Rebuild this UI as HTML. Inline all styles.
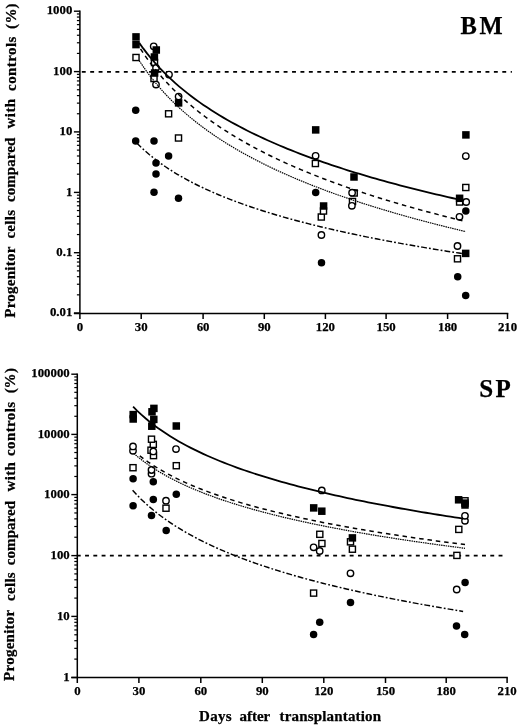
<!DOCTYPE html>
<html><head><meta charset="utf-8"><style>
html,body{margin:0;padding:0;background:#fff;overflow:hidden;width:520px;height:728px;}
svg{display:block;filter:grayscale(1);}
text{font-family:"Liberation Serif", serif;font-weight:bold;fill:#000;stroke:#000;stroke-width:0.25px;}
.tl{font-size:12.8px;}
.pl{font-size:24.5px;}
.yt{font-size:15px;}
.xt{font-size:15px;}
</style></head>
<body>
<svg width="520" height="728" viewBox="0 0 520 728">
<rect width="520" height="728" fill="#fff"/>
<line x1="79.9" y1="10.5" x2="79.9" y2="319" stroke="#000" stroke-width="1.5"/>
<line x1="73.9" y1="313.4" x2="508.3" y2="313.4" stroke="#000" stroke-width="1.5"/>
<line x1="73.9" y1="11.2" x2="79.9" y2="11.2" stroke="#000" stroke-width="1.4"/>
<text x="72.3" y="14.4" text-anchor="end" class="tl">1000</text>
<line x1="76.9" y1="53.42" x2="79.9" y2="53.42" stroke="#000" stroke-width="1.2"/>
<line x1="76.9" y1="42.78" x2="79.9" y2="42.78" stroke="#000" stroke-width="1.2"/>
<line x1="76.9" y1="35.24" x2="79.9" y2="35.24" stroke="#000" stroke-width="1.2"/>
<line x1="76.9" y1="29.38" x2="79.9" y2="29.38" stroke="#000" stroke-width="1.2"/>
<line x1="76.9" y1="24.6" x2="79.9" y2="24.6" stroke="#000" stroke-width="1.2"/>
<line x1="76.9" y1="20.56" x2="79.9" y2="20.56" stroke="#000" stroke-width="1.2"/>
<line x1="76.9" y1="17.05" x2="79.9" y2="17.05" stroke="#000" stroke-width="1.2"/>
<line x1="76.9" y1="13.96" x2="79.9" y2="13.96" stroke="#000" stroke-width="1.2"/>
<line x1="73.9" y1="71.6" x2="79.9" y2="71.6" stroke="#000" stroke-width="1.4"/>
<text x="72.3" y="74.8" text-anchor="end" class="tl">100</text>
<line x1="76.9" y1="113.75" x2="79.9" y2="113.75" stroke="#000" stroke-width="1.2"/>
<line x1="76.9" y1="103.13" x2="79.9" y2="103.13" stroke="#000" stroke-width="1.2"/>
<line x1="76.9" y1="95.6" x2="79.9" y2="95.6" stroke="#000" stroke-width="1.2"/>
<line x1="76.9" y1="89.75" x2="79.9" y2="89.75" stroke="#000" stroke-width="1.2"/>
<line x1="76.9" y1="84.98" x2="79.9" y2="84.98" stroke="#000" stroke-width="1.2"/>
<line x1="76.9" y1="80.94" x2="79.9" y2="80.94" stroke="#000" stroke-width="1.2"/>
<line x1="76.9" y1="77.44" x2="79.9" y2="77.44" stroke="#000" stroke-width="1.2"/>
<line x1="76.9" y1="74.36" x2="79.9" y2="74.36" stroke="#000" stroke-width="1.2"/>
<line x1="73.9" y1="131.9" x2="79.9" y2="131.9" stroke="#000" stroke-width="1.4"/>
<text x="72.3" y="135.1" text-anchor="end" class="tl">10</text>
<line x1="76.9" y1="174.19" x2="79.9" y2="174.19" stroke="#000" stroke-width="1.2"/>
<line x1="76.9" y1="163.53" x2="79.9" y2="163.53" stroke="#000" stroke-width="1.2"/>
<line x1="76.9" y1="155.98" x2="79.9" y2="155.98" stroke="#000" stroke-width="1.2"/>
<line x1="76.9" y1="150.11" x2="79.9" y2="150.11" stroke="#000" stroke-width="1.2"/>
<line x1="76.9" y1="145.32" x2="79.9" y2="145.32" stroke="#000" stroke-width="1.2"/>
<line x1="76.9" y1="141.27" x2="79.9" y2="141.27" stroke="#000" stroke-width="1.2"/>
<line x1="76.9" y1="137.76" x2="79.9" y2="137.76" stroke="#000" stroke-width="1.2"/>
<line x1="76.9" y1="134.67" x2="79.9" y2="134.67" stroke="#000" stroke-width="1.2"/>
<line x1="73.9" y1="192.4" x2="79.9" y2="192.4" stroke="#000" stroke-width="1.4"/>
<text x="72.3" y="195.6" text-anchor="end" class="tl">1</text>
<line x1="76.9" y1="234.55" x2="79.9" y2="234.55" stroke="#000" stroke-width="1.2"/>
<line x1="76.9" y1="223.93" x2="79.9" y2="223.93" stroke="#000" stroke-width="1.2"/>
<line x1="76.9" y1="216.4" x2="79.9" y2="216.4" stroke="#000" stroke-width="1.2"/>
<line x1="76.9" y1="210.55" x2="79.9" y2="210.55" stroke="#000" stroke-width="1.2"/>
<line x1="76.9" y1="205.78" x2="79.9" y2="205.78" stroke="#000" stroke-width="1.2"/>
<line x1="76.9" y1="201.74" x2="79.9" y2="201.74" stroke="#000" stroke-width="1.2"/>
<line x1="76.9" y1="198.24" x2="79.9" y2="198.24" stroke="#000" stroke-width="1.2"/>
<line x1="76.9" y1="195.16" x2="79.9" y2="195.16" stroke="#000" stroke-width="1.2"/>
<line x1="73.9" y1="252.7" x2="79.9" y2="252.7" stroke="#000" stroke-width="1.4"/>
<text x="72.3" y="255.9" text-anchor="end" class="tl">0.1</text>
<line x1="76.9" y1="294.85" x2="79.9" y2="294.85" stroke="#000" stroke-width="1.2"/>
<line x1="76.9" y1="284.23" x2="79.9" y2="284.23" stroke="#000" stroke-width="1.2"/>
<line x1="76.9" y1="276.7" x2="79.9" y2="276.7" stroke="#000" stroke-width="1.2"/>
<line x1="76.9" y1="270.85" x2="79.9" y2="270.85" stroke="#000" stroke-width="1.2"/>
<line x1="76.9" y1="266.08" x2="79.9" y2="266.08" stroke="#000" stroke-width="1.2"/>
<line x1="76.9" y1="262.04" x2="79.9" y2="262.04" stroke="#000" stroke-width="1.2"/>
<line x1="76.9" y1="258.54" x2="79.9" y2="258.54" stroke="#000" stroke-width="1.2"/>
<line x1="76.9" y1="255.46" x2="79.9" y2="255.46" stroke="#000" stroke-width="1.2"/>
<line x1="73.9" y1="313" x2="79.9" y2="313" stroke="#000" stroke-width="1.4"/>
<text x="72.3" y="316.2" text-anchor="end" class="tl">0.01</text>
<text x="80" y="331.2" text-anchor="middle" class="tl">0</text>
<line x1="141.2" y1="313.4" x2="141.2" y2="319" stroke="#000" stroke-width="1.5"/>
<text x="141.2" y="331.2" text-anchor="middle" class="tl">30</text>
<line x1="203.1" y1="313.4" x2="203.1" y2="319" stroke="#000" stroke-width="1.5"/>
<text x="203.1" y="331.2" text-anchor="middle" class="tl">60</text>
<line x1="264.3" y1="313.4" x2="264.3" y2="319" stroke="#000" stroke-width="1.5"/>
<text x="264.3" y="331.2" text-anchor="middle" class="tl">90</text>
<line x1="325.4" y1="313.4" x2="325.4" y2="319" stroke="#000" stroke-width="1.5"/>
<text x="325.4" y="331.2" text-anchor="middle" class="tl">120</text>
<line x1="386.1" y1="313.4" x2="386.1" y2="319" stroke="#000" stroke-width="1.5"/>
<text x="386.1" y="331.2" text-anchor="middle" class="tl">150</text>
<line x1="447.6" y1="313.4" x2="447.6" y2="319" stroke="#000" stroke-width="1.5"/>
<text x="447.6" y="331.2" text-anchor="middle" class="tl">180</text>
<line x1="507.5" y1="313.4" x2="507.5" y2="319" stroke="#000" stroke-width="1.5"/>
<text x="507.5" y="331.2" text-anchor="middle" class="tl">210</text>
<line x1="81.8" y1="71.8" x2="511.9" y2="71.8" stroke="#000" stroke-width="1.75" stroke-dasharray="3.9 4.51"/>
<line x1="77.3" y1="373.5" x2="77.3" y2="683" stroke="#000" stroke-width="1.5"/>
<line x1="71.3" y1="677.4" x2="507.8" y2="677.4" stroke="#000" stroke-width="1.5"/>
<line x1="71.3" y1="374.2" x2="77.3" y2="374.2" stroke="#000" stroke-width="1.4"/>
<text x="69.7" y="377.4" text-anchor="end" class="tl">100000</text>
<line x1="74.3" y1="416.28" x2="77.3" y2="416.28" stroke="#000" stroke-width="1.2"/>
<line x1="74.3" y1="405.68" x2="77.3" y2="405.68" stroke="#000" stroke-width="1.2"/>
<line x1="74.3" y1="398.16" x2="77.3" y2="398.16" stroke="#000" stroke-width="1.2"/>
<line x1="74.3" y1="392.32" x2="77.3" y2="392.32" stroke="#000" stroke-width="1.2"/>
<line x1="74.3" y1="387.56" x2="77.3" y2="387.56" stroke="#000" stroke-width="1.2"/>
<line x1="74.3" y1="383.53" x2="77.3" y2="383.53" stroke="#000" stroke-width="1.2"/>
<line x1="74.3" y1="380.03" x2="77.3" y2="380.03" stroke="#000" stroke-width="1.2"/>
<line x1="74.3" y1="376.95" x2="77.3" y2="376.95" stroke="#000" stroke-width="1.2"/>
<line x1="71.3" y1="434.4" x2="77.3" y2="434.4" stroke="#000" stroke-width="1.4"/>
<text x="69.7" y="437.6" text-anchor="end" class="tl">10000</text>
<line x1="74.3" y1="476.48" x2="77.3" y2="476.48" stroke="#000" stroke-width="1.2"/>
<line x1="74.3" y1="465.88" x2="77.3" y2="465.88" stroke="#000" stroke-width="1.2"/>
<line x1="74.3" y1="458.36" x2="77.3" y2="458.36" stroke="#000" stroke-width="1.2"/>
<line x1="74.3" y1="452.52" x2="77.3" y2="452.52" stroke="#000" stroke-width="1.2"/>
<line x1="74.3" y1="447.76" x2="77.3" y2="447.76" stroke="#000" stroke-width="1.2"/>
<line x1="74.3" y1="443.73" x2="77.3" y2="443.73" stroke="#000" stroke-width="1.2"/>
<line x1="74.3" y1="440.23" x2="77.3" y2="440.23" stroke="#000" stroke-width="1.2"/>
<line x1="74.3" y1="437.15" x2="77.3" y2="437.15" stroke="#000" stroke-width="1.2"/>
<line x1="71.3" y1="494.6" x2="77.3" y2="494.6" stroke="#000" stroke-width="1.4"/>
<text x="69.7" y="497.8" text-anchor="end" class="tl">1000</text>
<line x1="74.3" y1="537.24" x2="77.3" y2="537.24" stroke="#000" stroke-width="1.2"/>
<line x1="74.3" y1="526.5" x2="77.3" y2="526.5" stroke="#000" stroke-width="1.2"/>
<line x1="74.3" y1="518.87" x2="77.3" y2="518.87" stroke="#000" stroke-width="1.2"/>
<line x1="74.3" y1="512.96" x2="77.3" y2="512.96" stroke="#000" stroke-width="1.2"/>
<line x1="74.3" y1="508.13" x2="77.3" y2="508.13" stroke="#000" stroke-width="1.2"/>
<line x1="74.3" y1="504.05" x2="77.3" y2="504.05" stroke="#000" stroke-width="1.2"/>
<line x1="74.3" y1="500.51" x2="77.3" y2="500.51" stroke="#000" stroke-width="1.2"/>
<line x1="74.3" y1="497.39" x2="77.3" y2="497.39" stroke="#000" stroke-width="1.2"/>
<line x1="71.3" y1="555.6" x2="77.3" y2="555.6" stroke="#000" stroke-width="1.4"/>
<text x="69.7" y="558.8" text-anchor="end" class="tl">100</text>
<line x1="74.3" y1="598.1" x2="77.3" y2="598.1" stroke="#000" stroke-width="1.2"/>
<line x1="74.3" y1="587.39" x2="77.3" y2="587.39" stroke="#000" stroke-width="1.2"/>
<line x1="74.3" y1="579.79" x2="77.3" y2="579.79" stroke="#000" stroke-width="1.2"/>
<line x1="74.3" y1="573.9" x2="77.3" y2="573.9" stroke="#000" stroke-width="1.2"/>
<line x1="74.3" y1="569.09" x2="77.3" y2="569.09" stroke="#000" stroke-width="1.2"/>
<line x1="74.3" y1="565.02" x2="77.3" y2="565.02" stroke="#000" stroke-width="1.2"/>
<line x1="74.3" y1="561.49" x2="77.3" y2="561.49" stroke="#000" stroke-width="1.2"/>
<line x1="74.3" y1="558.38" x2="77.3" y2="558.38" stroke="#000" stroke-width="1.2"/>
<line x1="71.3" y1="616.4" x2="77.3" y2="616.4" stroke="#000" stroke-width="1.4"/>
<text x="69.7" y="619.6" text-anchor="end" class="tl">10</text>
<line x1="74.3" y1="659.11" x2="77.3" y2="659.11" stroke="#000" stroke-width="1.2"/>
<line x1="74.3" y1="648.35" x2="77.3" y2="648.35" stroke="#000" stroke-width="1.2"/>
<line x1="74.3" y1="640.71" x2="77.3" y2="640.71" stroke="#000" stroke-width="1.2"/>
<line x1="74.3" y1="634.79" x2="77.3" y2="634.79" stroke="#000" stroke-width="1.2"/>
<line x1="74.3" y1="629.95" x2="77.3" y2="629.95" stroke="#000" stroke-width="1.2"/>
<line x1="74.3" y1="625.86" x2="77.3" y2="625.86" stroke="#000" stroke-width="1.2"/>
<line x1="74.3" y1="622.32" x2="77.3" y2="622.32" stroke="#000" stroke-width="1.2"/>
<line x1="74.3" y1="619.2" x2="77.3" y2="619.2" stroke="#000" stroke-width="1.2"/>
<line x1="71.3" y1="677.5" x2="77.3" y2="677.5" stroke="#000" stroke-width="1.4"/>
<text x="69.7" y="680.7" text-anchor="end" class="tl">1</text>
<text x="77.4" y="695.2" text-anchor="middle" class="tl">0</text>
<line x1="138.9" y1="677.4" x2="138.9" y2="683" stroke="#000" stroke-width="1.5"/>
<text x="138.9" y="695.2" text-anchor="middle" class="tl">30</text>
<line x1="200.8" y1="677.4" x2="200.8" y2="683" stroke="#000" stroke-width="1.5"/>
<text x="200.8" y="695.2" text-anchor="middle" class="tl">60</text>
<line x1="262.3" y1="677.4" x2="262.3" y2="683" stroke="#000" stroke-width="1.5"/>
<text x="262.3" y="695.2" text-anchor="middle" class="tl">90</text>
<line x1="323.8" y1="677.4" x2="323.8" y2="683" stroke="#000" stroke-width="1.5"/>
<text x="323.8" y="695.2" text-anchor="middle" class="tl">120</text>
<line x1="385.5" y1="677.4" x2="385.5" y2="683" stroke="#000" stroke-width="1.5"/>
<text x="385.5" y="695.2" text-anchor="middle" class="tl">150</text>
<line x1="446.2" y1="677.4" x2="446.2" y2="683" stroke="#000" stroke-width="1.5"/>
<text x="446.2" y="695.2" text-anchor="middle" class="tl">180</text>
<line x1="507.1" y1="677.4" x2="507.1" y2="683" stroke="#000" stroke-width="1.5"/>
<text x="507.1" y="695.2" text-anchor="middle" class="tl">210</text>
<line x1="76.8" y1="555.7" x2="502.8" y2="555.7" stroke="#000" stroke-width="1.75" stroke-dasharray="3.9 4.37"/>
<rect x="454.45" y="255.75" width="6.1" height="6.1" fill="#fff" stroke="#000" stroke-width="1.4"/>
<rect x="318.25" y="213.95" width="6.1" height="6.1" fill="#fff" stroke="#000" stroke-width="1.4"/>
<rect x="320.45" y="207.95" width="6.1" height="6.1" fill="#fff" stroke="#000" stroke-width="1.4"/>
<rect x="456.55" y="198.95" width="6.1" height="6.1" fill="#fff" stroke="#000" stroke-width="1.4"/>
<rect x="349.45" y="198.45" width="6.1" height="6.1" fill="#fff" stroke="#000" stroke-width="1.4"/>
<rect x="351.15" y="189.95" width="6.1" height="6.1" fill="#fff" stroke="#000" stroke-width="1.4"/>
<rect x="462.75" y="184.45" width="6.1" height="6.1" fill="#fff" stroke="#000" stroke-width="1.4"/>
<rect x="312.35" y="160.45" width="6.1" height="6.1" fill="#fff" stroke="#000" stroke-width="1.4"/>
<rect x="175.45" y="134.95" width="6.1" height="6.1" fill="#fff" stroke="#000" stroke-width="1.4"/>
<rect x="165.55" y="110.75" width="6.1" height="6.1" fill="#fff" stroke="#000" stroke-width="1.4"/>
<rect x="150.95" y="75.45" width="6.1" height="6.1" fill="#fff" stroke="#000" stroke-width="1.4"/>
<rect x="151.45" y="59.45" width="6.1" height="6.1" fill="#fff" stroke="#000" stroke-width="1.4"/>
<rect x="132.95" y="54.45" width="6.1" height="6.1" fill="#fff" stroke="#000" stroke-width="1.4"/>
<circle cx="457.5" cy="246" r="3.2" fill="#fff" stroke="#000" stroke-width="1.4"/>
<circle cx="321.4" cy="235" r="3.2" fill="#fff" stroke="#000" stroke-width="1.4"/>
<circle cx="459.5" cy="216.8" r="3.2" fill="#fff" stroke="#000" stroke-width="1.4"/>
<circle cx="351.9" cy="205.8" r="3.2" fill="#fff" stroke="#000" stroke-width="1.4"/>
<circle cx="466.2" cy="202" r="3.2" fill="#fff" stroke="#000" stroke-width="1.4"/>
<circle cx="352.1" cy="192.7" r="3.2" fill="#fff" stroke="#000" stroke-width="1.4"/>
<circle cx="465.8" cy="156.1" r="3.2" fill="#fff" stroke="#000" stroke-width="1.4"/>
<circle cx="315.6" cy="155.8" r="3.2" fill="#fff" stroke="#000" stroke-width="1.4"/>
<circle cx="178.6" cy="96.6" r="3.2" fill="#fff" stroke="#000" stroke-width="1.4"/>
<circle cx="156" cy="84.6" r="3.2" fill="#fff" stroke="#000" stroke-width="1.4"/>
<circle cx="169" cy="74.6" r="3.2" fill="#fff" stroke="#000" stroke-width="1.4"/>
<circle cx="156" cy="68" r="3.2" fill="#fff" stroke="#000" stroke-width="1.4"/>
<circle cx="153.7" cy="46.3" r="3.2" fill="#fff" stroke="#000" stroke-width="1.4"/>
<rect x="132.25" y="33.15" width="7.5" height="7.5" fill="#000"/>
<rect x="132.25" y="40.85" width="7.5" height="7.5" fill="#000"/>
<rect x="152.55" y="46.25" width="7.5" height="7.5" fill="#000"/>
<rect x="150.65" y="53.25" width="7.5" height="7.5" fill="#000"/>
<rect x="150.85" y="69.25" width="7.5" height="7.5" fill="#000"/>
<rect x="174.85" y="99.15" width="7.5" height="7.5" fill="#000"/>
<rect x="311.95" y="126.15" width="7.5" height="7.5" fill="#000"/>
<rect x="319.85" y="202.25" width="7.5" height="7.5" fill="#000"/>
<rect x="350.25" y="173.25" width="7.5" height="7.5" fill="#000"/>
<rect x="462.15" y="131.15" width="7.5" height="7.5" fill="#000"/>
<rect x="455.85" y="194.55" width="7.5" height="7.5" fill="#000"/>
<rect x="461.95" y="249.65" width="7.5" height="7.5" fill="#000"/>
<circle cx="135.7" cy="110.3" r="3.75" fill="#000"/>
<circle cx="135.7" cy="141.1" r="3.75" fill="#000"/>
<circle cx="154" cy="141.1" r="3.75" fill="#000"/>
<circle cx="168.6" cy="155.9" r="3.75" fill="#000"/>
<circle cx="156" cy="163" r="3.75" fill="#000"/>
<circle cx="156" cy="174" r="3.75" fill="#000"/>
<circle cx="154" cy="192.2" r="3.75" fill="#000"/>
<circle cx="178.5" cy="198.3" r="3.75" fill="#000"/>
<circle cx="315.7" cy="192.5" r="3.75" fill="#000"/>
<circle cx="321.5" cy="262.7" r="3.75" fill="#000"/>
<circle cx="465.8" cy="210.9" r="3.75" fill="#000"/>
<circle cx="457.7" cy="276.8" r="3.75" fill="#000"/>
<circle cx="465.7" cy="295.4" r="3.75" fill="#000"/>
<rect x="310.55" y="590.05" width="6.1" height="6.1" fill="#fff" stroke="#000" stroke-width="1.4"/>
<rect x="453.85" y="552.35" width="6.1" height="6.1" fill="#fff" stroke="#000" stroke-width="1.4"/>
<rect x="349.35" y="546.15" width="6.1" height="6.1" fill="#fff" stroke="#000" stroke-width="1.4"/>
<rect x="318.85" y="540.45" width="6.1" height="6.1" fill="#fff" stroke="#000" stroke-width="1.4"/>
<rect x="347.45" y="538.75" width="6.1" height="6.1" fill="#fff" stroke="#000" stroke-width="1.4"/>
<rect x="316.75" y="531.25" width="6.1" height="6.1" fill="#fff" stroke="#000" stroke-width="1.4"/>
<rect x="455.75" y="526.35" width="6.1" height="6.1" fill="#fff" stroke="#000" stroke-width="1.4"/>
<rect x="162.95" y="505.15" width="6.1" height="6.1" fill="#fff" stroke="#000" stroke-width="1.4"/>
<rect x="461.95" y="497.75" width="6.1" height="6.1" fill="#fff" stroke="#000" stroke-width="1.4"/>
<rect x="129.95" y="464.65" width="6.1" height="6.1" fill="#fff" stroke="#000" stroke-width="1.4"/>
<rect x="173.25" y="462.65" width="6.1" height="6.1" fill="#fff" stroke="#000" stroke-width="1.4"/>
<rect x="150.45" y="452.55" width="6.1" height="6.1" fill="#fff" stroke="#000" stroke-width="1.4"/>
<rect x="147.95" y="447.15" width="6.1" height="6.1" fill="#fff" stroke="#000" stroke-width="1.4"/>
<rect x="150.25" y="441.35" width="6.1" height="6.1" fill="#fff" stroke="#000" stroke-width="1.4"/>
<rect x="148.45" y="436.15" width="6.1" height="6.1" fill="#fff" stroke="#000" stroke-width="1.4"/>
<circle cx="456.7" cy="589.5" r="3.2" fill="#fff" stroke="#000" stroke-width="1.4"/>
<circle cx="350.5" cy="573.3" r="3.2" fill="#fff" stroke="#000" stroke-width="1.4"/>
<circle cx="319.7" cy="551" r="3.2" fill="#fff" stroke="#000" stroke-width="1.4"/>
<circle cx="313.6" cy="547.3" r="3.2" fill="#fff" stroke="#000" stroke-width="1.4"/>
<circle cx="465" cy="520.8" r="3.2" fill="#fff" stroke="#000" stroke-width="1.4"/>
<circle cx="465" cy="515.8" r="3.2" fill="#fff" stroke="#000" stroke-width="1.4"/>
<circle cx="166" cy="500.7" r="3.2" fill="#fff" stroke="#000" stroke-width="1.4"/>
<circle cx="321.8" cy="490.4" r="3.2" fill="#fff" stroke="#000" stroke-width="1.4"/>
<circle cx="151.5" cy="473.7" r="3.2" fill="#fff" stroke="#000" stroke-width="1.4"/>
<circle cx="151.5" cy="470" r="3.2" fill="#fff" stroke="#000" stroke-width="1.4"/>
<circle cx="153.3" cy="451.4" r="3.2" fill="#fff" stroke="#000" stroke-width="1.4"/>
<circle cx="133" cy="450.8" r="3.2" fill="#fff" stroke="#000" stroke-width="1.4"/>
<circle cx="176" cy="449.1" r="3.2" fill="#fff" stroke="#000" stroke-width="1.4"/>
<circle cx="133" cy="446.4" r="3.2" fill="#fff" stroke="#000" stroke-width="1.4"/>
<rect x="129.45" y="410.85" width="7.5" height="7.5" fill="#000"/>
<rect x="129.45" y="415.25" width="7.5" height="7.5" fill="#000"/>
<rect x="150.15" y="404.65" width="7.5" height="7.5" fill="#000"/>
<rect x="148.25" y="408.05" width="7.5" height="7.5" fill="#000"/>
<rect x="150.05" y="415.65" width="7.5" height="7.5" fill="#000"/>
<rect x="148.05" y="422.45" width="7.5" height="7.5" fill="#000"/>
<rect x="172.55" y="422.25" width="7.5" height="7.5" fill="#000"/>
<rect x="309.95" y="504.15" width="7.5" height="7.5" fill="#000"/>
<rect x="318.05" y="507.45" width="7.5" height="7.5" fill="#000"/>
<rect x="348.65" y="534.15" width="7.5" height="7.5" fill="#000"/>
<rect x="454.85" y="496.05" width="7.5" height="7.5" fill="#000"/>
<rect x="461.25" y="499.35" width="7.5" height="7.5" fill="#000"/>
<rect x="461.25" y="501.25" width="7.5" height="7.5" fill="#000"/>
<circle cx="133.1" cy="478.7" r="3.75" fill="#000"/>
<circle cx="133.1" cy="505.8" r="3.75" fill="#000"/>
<circle cx="153.3" cy="481.8" r="3.75" fill="#000"/>
<circle cx="153.3" cy="499.4" r="3.75" fill="#000"/>
<circle cx="151.5" cy="515.5" r="3.75" fill="#000"/>
<circle cx="166.2" cy="530.5" r="3.75" fill="#000"/>
<circle cx="176.3" cy="494.2" r="3.75" fill="#000"/>
<circle cx="319.7" cy="622.2" r="3.75" fill="#000"/>
<circle cx="313.6" cy="634.6" r="3.75" fill="#000"/>
<circle cx="350.5" cy="602.5" r="3.75" fill="#000"/>
<circle cx="465.1" cy="582.6" r="3.75" fill="#000"/>
<circle cx="456.5" cy="626" r="3.75" fill="#000"/>
<circle cx="464.7" cy="634.6" r="3.75" fill="#000"/>
<path d="M139.2,42.88 L143.21,48.42 L147.22,53.62 L151.23,58.52 L155.24,63.15 L159.25,67.53 L163.26,71.7 L167.27,75.68 L171.28,79.47 L175.29,83.1 L179.3,86.58 L183.31,89.93 L187.32,93.14 L191.33,96.24 L195.34,99.23 L199.35,102.11 L203.36,104.9 L207.37,107.6 L211.38,110.22 L215.39,112.75 L219.4,115.22 L223.41,117.61 L227.42,119.94 L231.43,122.2 L235.44,124.41 L239.45,126.56 L243.46,128.65 L247.47,130.7 L251.48,132.69 L255.49,134.64 L259.5,136.55 L263.51,138.41 L267.52,140.24 L271.53,142.02 L275.54,143.77 L279.55,145.48 L283.56,147.16 L287.57,148.81 L291.58,150.42 L295.59,152 L299.6,153.56 L303.61,155.09 L307.62,156.58 L311.63,158.06 L315.64,159.51 L319.65,160.93 L323.66,162.33 L327.67,163.7 L331.68,165.06 L335.69,166.39 L339.7,167.71 L343.71,169 L347.72,170.27 L351.73,171.52 L355.74,172.76 L359.75,173.98 L363.76,175.18 L367.77,176.36 L371.78,177.53 L375.79,178.68 L379.8,179.81 L383.81,180.93 L387.82,182.04 L391.83,183.13 L395.84,184.21 L399.85,185.27 L403.86,186.32 L407.87,187.36 L411.88,188.39 L415.89,189.4 L419.9,190.4 L423.91,191.39 L427.92,192.37 L431.93,193.33 L435.94,194.29 L439.95,195.23 L443.96,196.17 L447.97,197.09 L451.98,198 L455.99,198.91 L460,199.8" fill="none" stroke="#000" stroke-width="1.8"/>
<path d="M140.5,48.95 L144.52,54.96 L148.55,60.6 L152.57,65.92 L156.59,70.95 L160.62,75.73 L164.64,80.27 L168.67,84.6 L172.69,88.73 L176.71,92.69 L180.74,96.49 L184.76,100.14 L188.78,103.65 L192.81,107.04 L196.83,110.3 L200.86,113.46 L204.88,116.51 L208.9,119.46 L212.93,122.33 L216.95,125.1 L220.97,127.8 L225,130.42 L229.02,132.97 L233.05,135.45 L237.07,137.87 L241.09,140.22 L245.12,142.52 L249.14,144.76 L253.16,146.95 L257.19,149.09 L261.21,151.18 L265.24,153.23 L269.26,155.23 L273.28,157.19 L277.31,159.1 L281.33,160.98 L285.36,162.83 L289.38,164.63 L293.4,166.4 L297.43,168.14 L301.45,169.85 L305.47,171.53 L309.5,173.17 L313.52,174.79 L317.54,176.38 L321.57,177.95 L325.59,179.48 L329.62,181 L333.64,182.48 L337.66,183.95 L341.69,185.39 L345.71,186.81 L349.74,188.21 L353.76,189.59 L357.78,190.95 L361.81,192.28 L365.83,193.6 L369.85,194.91 L373.88,196.19 L377.9,197.45 L381.93,198.7 L385.95,199.93 L389.97,201.15 L394,202.35 L398.02,203.54 L402.04,204.71 L406.07,205.86 L410.09,207 L414.11,208.13 L418.14,209.24 L422.16,210.35 L426.19,211.43 L430.21,212.51 L434.23,213.57 L438.26,214.62 L442.28,215.66 L446.3,216.69 L450.33,217.71 L454.35,218.71 L458.38,219.71 L462.4,220.69" fill="none" stroke="#000" stroke-width="1.5" stroke-dasharray="4.5 3.9"/>
<path d="M139.2,60.59 L143.28,66.68 L147.36,72.39 L151.44,77.77 L155.52,82.84 L159.61,87.65 L163.69,92.22 L167.77,96.57 L171.85,100.72 L175.93,104.69 L180.01,108.49 L184.09,112.14 L188.17,115.65 L192.26,119.03 L196.34,122.29 L200.42,125.44 L204.5,128.48 L208.58,131.42 L212.66,134.27 L216.74,137.04 L220.82,139.72 L224.91,142.33 L228.99,144.86 L233.07,147.33 L237.15,149.73 L241.23,152.07 L245.31,154.35 L249.39,156.57 L253.47,158.74 L257.56,160.86 L261.64,162.94 L265.72,164.96 L269.8,166.94 L273.88,168.89 L277.96,170.79 L282.04,172.65 L286.12,174.47 L290.21,176.26 L294.29,178.01 L298.37,179.73 L302.45,181.42 L306.53,183.08 L310.61,184.71 L314.69,186.31 L318.77,187.88 L322.86,189.42 L326.94,190.94 L331.02,192.44 L335.1,193.91 L339.18,195.36 L343.26,196.78 L347.34,198.18 L351.42,199.56 L355.51,200.92 L359.59,202.27 L363.67,203.59 L367.75,204.89 L371.83,206.17 L375.91,207.44 L379.99,208.69 L384.07,209.92 L388.16,211.14 L392.24,212.33 L396.32,213.52 L400.4,214.69 L404.48,215.84 L408.56,216.98 L412.64,218.11 L416.72,219.22 L420.81,220.32 L424.89,221.4 L428.97,222.47 L433.05,223.53 L437.13,224.58 L441.21,225.62 L445.29,226.64 L449.38,227.65 L453.46,228.66 L457.54,229.65 L461.62,230.63 L465.7,231.6" fill="none" stroke="#000" stroke-width="1.2" stroke-dasharray="1.5 0.8"/>
<path d="M137,143.19 L141.07,147.21 L145.15,150.96 L149.22,154.48 L153.3,157.8 L157.38,160.94 L161.45,163.92 L165.53,166.76 L169.6,169.46 L173.68,172.04 L177.75,174.51 L181.82,176.88 L185.9,179.16 L189.97,181.35 L194.05,183.46 L198.12,185.5 L202.2,187.46 L206.28,189.37 L210.35,191.21 L214.43,192.99 L218.5,194.72 L222.57,196.41 L226.65,198.04 L230.72,199.63 L234.8,201.18 L238.88,202.68 L242.95,204.15 L247.03,205.58 L251.1,206.98 L255.18,208.34 L259.25,209.68 L263.32,210.98 L267.4,212.26 L271.48,213.5 L275.55,214.72 L279.62,215.92 L283.7,217.09 L287.77,218.24 L291.85,219.36 L295.93,220.47 L300,221.55 L304.07,222.62 L308.15,223.66 L312.23,224.69 L316.3,225.69 L320.38,226.68 L324.45,227.66 L328.52,228.62 L332.6,229.56 L336.68,230.49 L340.75,231.4 L344.82,232.3 L348.9,233.18 L352.98,234.06 L357.05,234.91 L361.12,235.76 L365.2,236.59 L369.27,237.42 L373.35,238.23 L377.43,239.03 L381.5,239.81 L385.57,240.59 L389.65,241.36 L393.73,242.12 L397.8,242.87 L401.88,243.6 L405.95,244.33 L410.02,245.05 L414.1,245.76 L418.18,246.47 L422.25,247.16 L426.32,247.85 L430.4,248.52 L434.48,249.19 L438.55,249.86 L442.62,250.51 L446.7,251.16 L450.77,251.8 L454.85,252.43 L458.93,253.06 L463,253.68" fill="none" stroke="#000" stroke-width="1.45" stroke-dasharray="5.8 2.1 1.8 2.1"/>
<path d="M133.1,406.69 L137.22,410.83 L141.35,414.69 L145.47,418.3 L149.59,421.71 L153.72,424.92 L157.84,427.97 L161.97,430.86 L166.09,433.61 L170.21,436.24 L174.34,438.76 L178.46,441.17 L182.58,443.48 L186.71,445.71 L190.83,447.85 L194.96,449.91 L199.08,451.91 L203.2,453.84 L207.33,455.7 L211.45,457.51 L215.57,459.26 L219.7,460.96 L223.82,462.61 L227.95,464.22 L232.07,465.78 L236.19,467.3 L240.32,468.79 L244.44,470.23 L248.56,471.64 L252.69,473.02 L256.81,474.36 L260.94,475.68 L265.06,476.96 L269.18,478.22 L273.31,479.45 L277.43,480.65 L281.55,481.83 L285.68,482.99 L289.8,484.12 L293.93,485.24 L298.05,486.33 L302.17,487.4 L306.3,488.45 L310.42,489.48 L314.54,490.49 L318.67,491.49 L322.79,492.47 L326.92,493.43 L331.04,494.38 L335.16,495.31 L339.29,496.23 L343.41,497.14 L347.53,498.02 L351.66,498.9 L355.78,499.76 L359.91,500.61 L364.03,501.45 L368.15,502.28 L372.28,503.09 L376.4,503.89 L380.52,504.69 L384.65,505.47 L388.77,506.24 L392.9,507 L397.02,507.75 L401.14,508.49 L405.27,509.22 L409.39,509.94 L413.51,510.66 L417.64,511.36 L421.76,512.06 L425.89,512.75 L430.01,513.43 L434.13,514.1 L438.26,514.76 L442.38,515.42 L446.5,516.07 L450.63,516.71 L454.75,517.35 L458.88,517.98 L463,518.6" fill="none" stroke="#000" stroke-width="1.8"/>
<path d="M139.8,455.91 L143.87,458.98 L147.93,461.86 L152,464.58 L156.06,467.16 L160.12,469.61 L164.19,471.94 L168.26,474.16 L172.32,476.29 L176.38,478.33 L180.45,480.28 L184.52,482.16 L188.58,483.97 L192.65,485.71 L196.71,487.4 L200.78,489.02 L204.84,490.6 L208.91,492.12 L212.97,493.6 L217.04,495.04 L221.1,496.43 L225.17,497.78 L229.23,499.1 L233.3,500.38 L237.36,501.63 L241.43,502.85 L245.49,504.04 L249.56,505.2 L253.62,506.33 L257.69,507.44 L261.75,508.52 L265.81,509.58 L269.88,510.62 L273.95,511.63 L278.01,512.63 L282.08,513.6 L286.14,514.56 L290.21,515.49 L294.27,516.41 L298.34,517.31 L302.4,518.2 L306.47,519.07 L310.53,519.92 L314.6,520.76 L318.66,521.58 L322.73,522.4 L326.79,523.19 L330.86,523.98 L334.92,524.75 L338.99,525.51 L343.05,526.26 L347.12,527 L351.18,527.72 L355.25,528.44 L359.31,529.14 L363.38,529.84 L367.44,530.52 L371.5,531.2 L375.57,531.87 L379.63,532.52 L383.7,533.17 L387.76,533.81 L391.83,534.44 L395.89,535.07 L399.96,535.68 L404.03,536.29 L408.09,536.89 L412.15,537.48 L416.22,538.07 L420.29,538.65 L424.35,539.22 L428.42,539.79 L432.48,540.34 L436.55,540.9 L440.61,541.44 L444.68,541.98 L448.74,542.52 L452.81,543.05 L456.87,543.57 L460.94,544.09 L465,544.6" fill="none" stroke="#000" stroke-width="1.5" stroke-dasharray="4.5 3.9"/>
<path d="M133.8,453.44 L137.94,456.93 L142.08,460.19 L146.22,463.24 L150.36,466.12 L154.5,468.84 L158.64,471.41 L162.78,473.86 L166.92,476.19 L171.06,478.42 L175.2,480.55 L179.34,482.59 L183.48,484.55 L187.62,486.43 L191.76,488.24 L195.9,489.99 L200.04,491.68 L204.18,493.32 L208.32,494.9 L212.46,496.43 L216.6,497.92 L220.74,499.36 L224.88,500.76 L229.02,502.12 L233.16,503.45 L237.3,504.74 L241.44,506 L245.58,507.22 L249.72,508.42 L253.86,509.59 L258,510.73 L262.14,511.84 L266.28,512.93 L270.42,514 L274.56,515.04 L278.7,516.07 L282.84,517.07 L286.98,518.05 L291.12,519.01 L295.26,519.96 L299.4,520.88 L303.54,521.79 L307.68,522.68 L311.82,523.56 L315.96,524.42 L320.1,525.27 L324.24,526.1 L328.38,526.92 L332.52,527.72 L336.66,528.51 L340.8,529.29 L344.94,530.06 L349.08,530.82 L353.22,531.56 L357.36,532.29 L361.5,533.01 L365.64,533.73 L369.78,534.43 L373.92,535.12 L378.06,535.8 L382.2,536.47 L386.34,537.14 L390.48,537.79 L394.62,538.44 L398.76,539.08 L402.9,539.71 L407.04,540.33 L411.18,540.94 L415.32,541.55 L419.46,542.15 L423.6,542.74 L427.74,543.32 L431.88,543.9 L436.02,544.47 L440.16,545.04 L444.3,545.59 L448.44,546.15 L452.58,546.69 L456.72,547.23 L460.86,547.77 L465,548.29" fill="none" stroke="#000" stroke-width="1.2" stroke-dasharray="1.5 0.8"/>
<path d="M132.6,490.21 L136.73,494.72 L140.86,498.92 L144.99,502.85 L149.12,506.55 L153.26,510.05 L157.39,513.35 L161.52,516.49 L165.65,519.48 L169.78,522.34 L173.91,525.07 L178.04,527.68 L182.18,530.19 L186.31,532.6 L190.44,534.92 L194.57,537.16 L198.7,539.32 L202.83,541.41 L206.96,543.43 L211.09,545.38 L215.22,547.28 L219.36,549.12 L223.49,550.91 L227.62,552.65 L231.75,554.34 L235.88,555.98 L240.01,557.59 L244.14,559.15 L248.27,560.68 L252.41,562.17 L256.54,563.62 L260.67,565.04 L264.8,566.43 L268.93,567.79 L273.06,569.12 L277.19,570.42 L281.32,571.7 L285.46,572.95 L289.59,574.17 L293.72,575.37 L297.85,576.55 L301.98,577.71 L306.11,578.85 L310.24,579.96 L314.38,581.06 L318.51,582.14 L322.64,583.19 L326.77,584.24 L330.9,585.26 L335.03,586.27 L339.16,587.26 L343.29,588.23 L347.42,589.19 L351.56,590.14 L355.69,591.07 L359.82,591.99 L363.95,592.9 L368.08,593.79 L372.21,594.67 L376.34,595.53 L380.48,596.39 L384.61,597.23 L388.74,598.07 L392.87,598.89 L397,599.7 L401.13,600.5 L405.26,601.29 L409.39,602.07 L413.52,602.84 L417.66,603.6 L421.79,604.35 L425.92,605.09 L430.05,605.83 L434.18,606.55 L438.31,607.27 L442.44,607.98 L446.58,608.68 L450.71,609.38 L454.84,610.06 L458.97,610.74 L463.1,611.41" fill="none" stroke="#000" stroke-width="1.45" stroke-dasharray="5.8 2.1 1.8 2.1"/>
<text x="460.5" y="33.8" class="pl" letter-spacing="2.6">BM</text>
<text x="479.2" y="397.2" class="pl" style="font-size:25px" letter-spacing="2.4">SP</text>
<text transform="translate(14.6,317.7) rotate(-90)" class="yt" letter-spacing="0.25">Progenitor</text>
<text transform="translate(15,238.6) rotate(-90)" class="yt" letter-spacing="0.3">cells</text>
<text transform="translate(15.3,202) rotate(-90)" class="yt" letter-spacing="0.06">compared</text>
<text transform="translate(15.4,128.4) rotate(-90)" class="yt" letter-spacing="0.4">with</text>
<text transform="translate(15.5,90.9) rotate(-90)" class="yt" letter-spacing="0.41">controls</text>
<text transform="translate(15.5,29) rotate(-90)" class="yt">(</text>
<text transform="translate(15.5,23.4) rotate(-90)" class="yt">%</text>
<text transform="translate(15.5,8.6) rotate(-90)" class="yt">)</text>
<text transform="translate(14.3,680.9) rotate(-90)" class="yt" letter-spacing="0.25">Progenitor</text>
<text transform="translate(14.7,601) rotate(-90)" class="yt" letter-spacing="0.3">cells</text>
<text transform="translate(15,565.2) rotate(-90)" class="yt" letter-spacing="0.06">compared</text>
<text transform="translate(15.1,491.6) rotate(-90)" class="yt" letter-spacing="0.4">with</text>
<text transform="translate(15.2,456.1) rotate(-90)" class="yt" letter-spacing="0.41">controls</text>
<text transform="translate(15.2,393.2) rotate(-90)" class="yt">(</text>
<text transform="translate(15.2,388.4) rotate(-90)" class="yt">%</text>
<text transform="translate(15.2,373) rotate(-90)" class="yt">)</text>
<text x="199.1" y="721" class="xt" letter-spacing="0.25">Days</text>
<text x="239.4" y="721" class="xt">after</text>
<text x="279.5" y="721" class="xt" letter-spacing="0.17">transplantation</text>
</svg>
</body></html>
